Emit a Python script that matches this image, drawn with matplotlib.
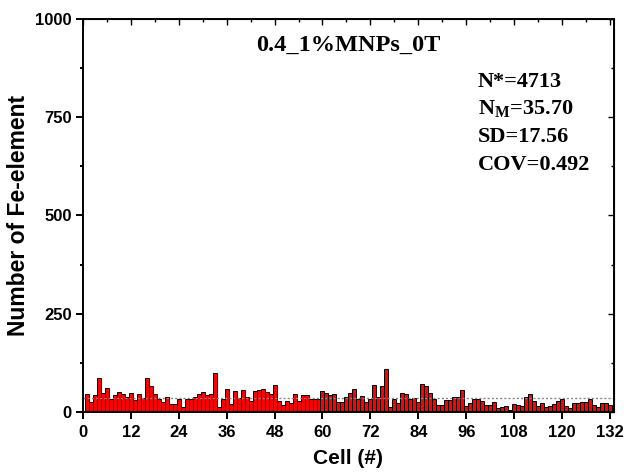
import matplotlib
matplotlib.use("Agg")
import matplotlib.pyplot as plt
from matplotlib.ticker import MultipleLocator

# Fe-element counts per cell (cells 1..132)
counts = [45, 26, 43, 86, 49, 62, 32, 43, 51, 45, 39, 49, 30, 45, 36, 86, 66, 47, 34, 26,
          38, 21, 21, 34, 13, 34, 34, 38, 45, 51, 42,
          45, 98, 13, 32, 59, 21, 53, 36, 56, 39, 28, 53, 56, 58, 51, 45, 68, 28, 19,
          29, 23, 45, 29, 42, 42, 34, 32, 34, 53, 49, 42, 45, 26,
          26, 39, 49, 58, 32, 40, 26, 32, 69, 39, 66, 109, 13, 34, 23, 49, 45, 32, 36, 26,
          71, 66, 49, 34, 17, 19, 30, 30, 39, 39, 55, 16, 22, 34, 34,
          29, 19, 19, 25, 10, 12, 15, 6, 21, 19, 15, 39, 45, 28, 15, 23, 13, 15, 21, 28,
          32, 16, 10, 23, 22, 26, 26, 34, 19, 13, 22, 23, 19]
cells = list(range(1, len(counts) + 1))
mean_n = 35.70
title = "0.4_1%MNPs_0T"
stats = ["N*=4713", r"N$_\mathbf{M}$=35.70", "SD=17.56", "COV=0.492"]

plt.rcParams["font.family"] = "Liberation Sans"
plt.rcParams["mathtext.fontset"] = "custom"
plt.rcParams["mathtext.bf"] = "Liberation Serif:bold"
plt.rcParams["mathtext.rm"] = "Liberation Serif:bold"

fig = plt.figure(figsize=(6.26, 4.73), dpi=100)
ax = fig.add_axes([0.1326, 0.129, 0.848, 0.831])

ax.bar(cells, counts, width=1.0, color="#ff0000", edgecolor="black", linewidth=0.7)
ax.axhline(mean_n, color="#888888", ls=(0, (1.5, 1.5)), lw=1.0)

ax.set_xlim(0, 133)
ax.set_ylim(0, 1000)
ax.xaxis.set_major_locator(MultipleLocator(12))
ax.yaxis.set_major_locator(MultipleLocator(250))
ax.yaxis.set_minor_locator(MultipleLocator(125))
ax.tick_params(which="both", direction="out", top=False, right=False, width=1.4)
ax.tick_params(which="major", length=5, labelsize=12)
ax.tick_params(axis="x", which="major", pad=4.5)
ax.tick_params(axis="y", which="major", pad=3)
ax.tick_params(which="minor", length=2)
for lbl in ax.get_xticklabels() + ax.get_yticklabels():
    lbl.set_fontweight("bold")
for s in ax.spines.values():
    s.set_linewidth(1.4)

# mirrored inward ticks on top and right
axt = ax.secondary_xaxis("top")
axt.xaxis.set_major_locator(MultipleLocator(12))
axt.xaxis.set_minor_locator(MultipleLocator(6))
axt.tick_params(which="both", direction="in", labeltop=False, width=1.0)
axt.tick_params(which="major", length=4)
axt.tick_params(which="minor", length=2.5)
axr = ax.secondary_yaxis("right")
axr.yaxis.set_major_locator(MultipleLocator(250))
axr.yaxis.set_minor_locator(MultipleLocator(125))
axr.tick_params(which="both", direction="in", labelright=False, width=1.0)
axr.tick_params(which="major", length=4)
axr.tick_params(which="minor", length=2.5)

ax.set_xlabel("Cell (#)", fontsize=15, fontweight="bold", labelpad=6)
ax.set_ylabel("Number of Fe-element", fontsize=16.5, fontweight="bold", labelpad=4)

ax.text(0.5, 0.934, title, transform=ax.transAxes, ha="center", va="center",
        family="Liberation Serif", fontweight="bold", fontsize=17.5)
for i, s in enumerate(stats):
    ax.text(0.744, 0.84 - i * 0.0705, s, transform=ax.transAxes, ha="left", va="center",
            family="Liberation Serif", fontweight="bold", fontsize=16)

fig.savefig("out.png", dpi=100)
